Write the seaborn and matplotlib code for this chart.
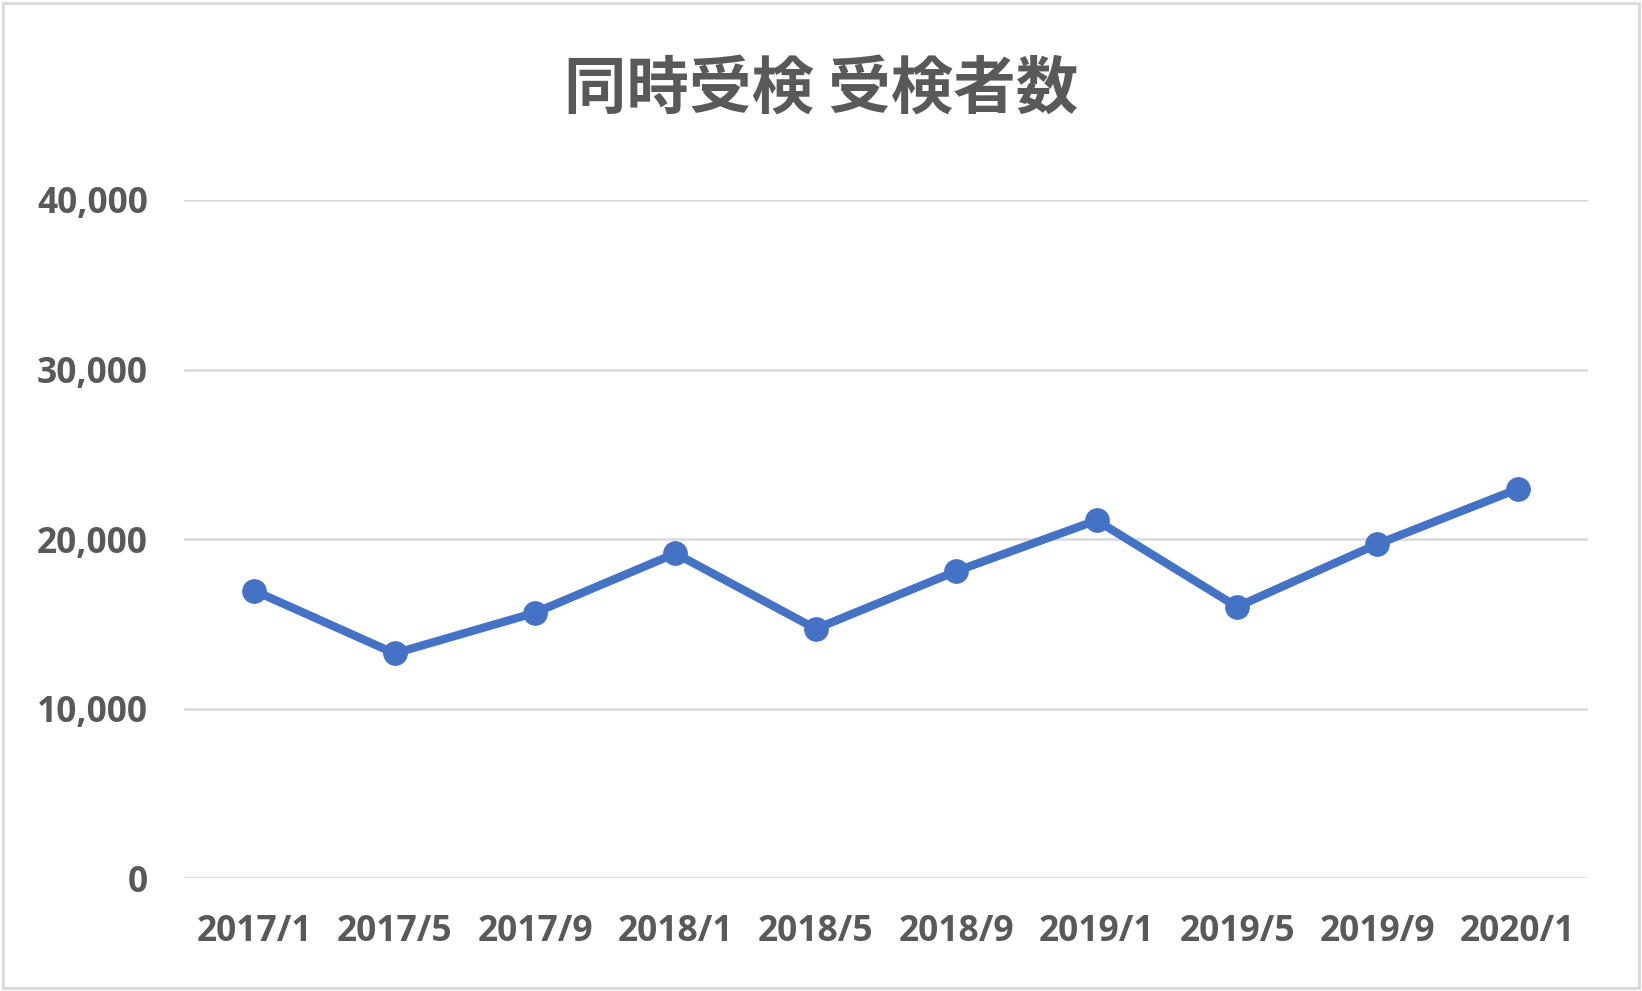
import matplotlib
matplotlib.use("Agg")
import matplotlib.pyplot as plt
import matplotlib.patches as patches
import seaborn as sns
import pandas as pd
from matplotlib.ticker import FuncFormatter

months = ["2017/1", "2017/5", "2017/9", "2018/1", "2018/5",
          "2018/9", "2019/1", "2019/5", "2019/9", "2020/1"]
examinees = [16950, 13250, 15650, 19150, 14700,
             18100, 21100, 16000, 19700, 22950]

df = pd.DataFrame({"month": months, "examinees": examinees})

sns.set_style("white")
plt.rcParams['font.family'] = ['Noto Sans CJK JP', 'DejaVu Sans']

text_color = "#595959"
line_color = "#4472C4"

fig = plt.figure(figsize=(16.42, 9.91), dpi=100)
# plot area in pixels: x 184..1588, y 200..878
ax = fig.add_axes([184 / 1642, 1 - 878 / 991, (1588 - 184) / 1642, (878 - 200) / 991])

sns.lineplot(data=df, x="month", y="examinees", ax=ax, sort=False,
             color=line_color, linewidth=6, marker="o", markersize=17,
             markeredgecolor=line_color, markerfacecolor=line_color)

ax.set_xlim(-0.5, len(months) - 0.5)
ax.set_ylim(0, 40000)
ax.set_yticks([0, 10000, 20000, 30000, 40000])
ax.yaxis.set_major_formatter(FuncFormatter(lambda v, p: f"{int(v):,}"))
ax.grid(axis="y", color="#D9D9D9", linewidth=1.8)
ax.set_axisbelow(True)
for s in ax.spines.values():
    s.set_visible(False)
ax.set_xlabel("")
ax.set_ylabel("")
ax.tick_params(axis="both", length=0, labelsize=25.5, colors=text_color)
ax.tick_params(axis="x", pad=26)
ax.tick_params(axis="y", pad=26)
for lbl in ax.get_xticklabels() + ax.get_yticklabels():
    lbl.set_fontweight("bold")
    lbl.set_family(["Open Sans", "DejaVu Sans"])

fig.text(821 / 1642, 1 - 89 / 991, "同時受検 受検者数", ha="center", va="center",
         fontsize=45, fontweight="bold", color=text_color)

fig.patches.append(patches.Rectangle((3 / 1642, 3 / 991), 1 - 6 / 1642, 1 - 6 / 991,
                                     transform=fig.transFigure, fill=False,
                                     edgecolor="#D9D9D9", linewidth=2))

fig.savefig("out.png", dpi=100, facecolor="white")
